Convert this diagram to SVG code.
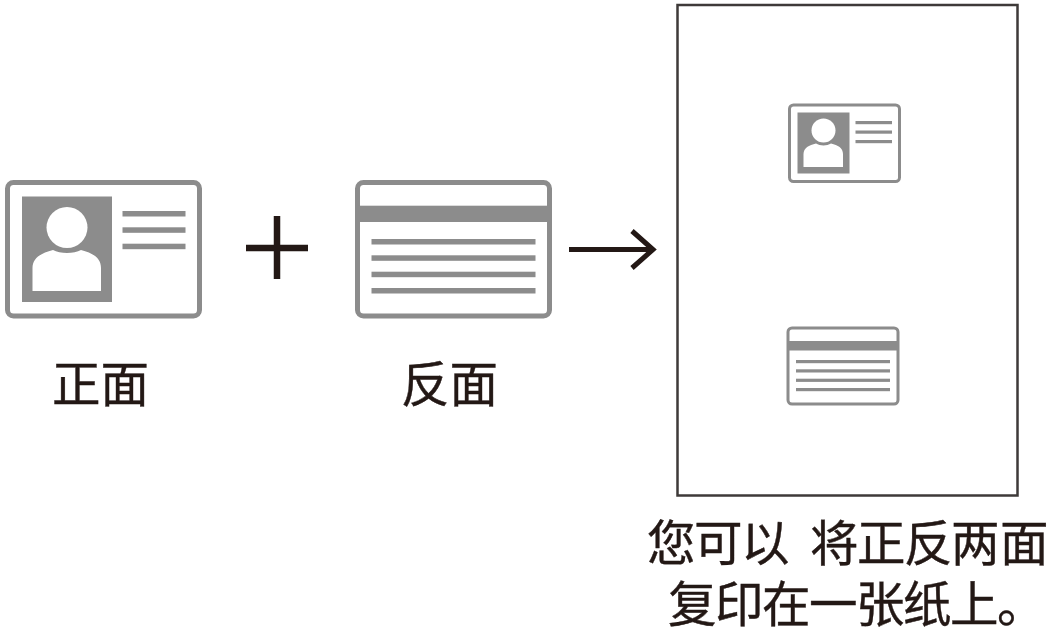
<svg xmlns="http://www.w3.org/2000/svg" width="1053" height="628" viewBox="0 0 1053 628">
<style>
.t{font-family:"Noto Sans CJK SC","Noto Sans",sans-serif;font-size:48.500px;fill:#231815;stroke:#231815;stroke-width:.4}
.g{fill:#8c8c8c}
.w{fill:#fff}
.card{fill:#fff;stroke:#8c8c8c;stroke-width:5}
.cards{fill:#fff;stroke:#8c8c8c;stroke-width:3}
.c{stroke:#231815;fill:none}
</style>
<rect width="1053" height="628" fill="#fff"/>
<g id="front-card">
<rect class="card" x="7.500" y="182.500" width="192" height="133.500" rx="6"/>
<rect class="g" x="22" y="196.500" width="90" height="105.500"/>
<circle class="w" cx="67" cy="227.500" r="20.500"/>
<path class="w" d="M32.500 291V268C32.500 258 41 253 53 250C60 254 74 254 81 250C93 253 101 258 101 268V291Z"/>
<rect class="g" x="122.500" y="211" width="63" height="5.500"/>
<rect class="g" x="122.500" y="227.300" width="63" height="5.500"/>
<rect class="g" x="122.500" y="243.700" width="63" height="5.500"/>
<text class="t" x="52" y="401.500">正面</text>
</g>
<g id="back-card">
<rect class="card" x="357.500" y="182.500" width="192" height="133.500" rx="6"/>
<rect class="g" x="357.500" y="205.700" width="192" height="16.300"/>
<rect class="g" x="371.500" y="239" width="164" height="5.500"/>
<rect class="g" x="371.500" y="255.300" width="164" height="5.500"/>
<rect class="g" x="371.500" y="271.700" width="164" height="5.500"/>
<rect class="g" x="371.500" y="288" width="164" height="5.500"/>
<text class="t" x="401" y="401.500">反面</text>
</g>
<g id="connectors">
<path class="c" stroke-width="6.500" d="M246 248H308M277 216V279"/>
<path class="c" stroke-width="5" d="M569 249.500H652M632 231L653 249.500L632 268"/>
</g>
<g id="sheet">
<rect x="677.500" y="5" width="340" height="490.500" fill="#fff" stroke="#3e3a39" stroke-width="2.500"/>
</g>
<g id="small-front">
<rect class="cards" x="789.500" y="105" width="110" height="76.500" rx="4"/>
<rect class="g" x="797.500" y="112.500" width="52" height="61"/>
<circle class="w" cx="823.500" cy="130.500" r="12"/>
<path class="w" d="M803.500 167V154C803.500 148 809 145 816 143.500C820 146 827 146 831 143.500C838 145 843 148 843 154V167Z"/>
<rect class="g" x="855.500" y="121" width="36.500" height="3.200"/>
<rect class="g" x="855.500" y="130.500" width="36.500" height="3.200"/>
<rect class="g" x="855.500" y="140" width="36.500" height="3.200"/>
</g>
<g id="small-back">
<rect class="cards" x="788" y="328" width="110" height="76" rx="4"/>
<rect class="g" x="788" y="341" width="110" height="9.500"/>
<rect class="g" x="796" y="360" width="94" height="3.200"/>
<rect class="g" x="796" y="369.300" width="94" height="3.200"/>
<rect class="g" x="796" y="378.700" width="94" height="3.200"/>
<rect class="g" x="796" y="388" width="94" height="3.200"/>
</g>
<g id="caption">
<text class="t" x="647 694 741 810 857 904 951 1000" y="560.500">您可以将正反两面</text>
<text class="t" x="668 715 762 809 856 903 950 997" y="621.500">复印在一张纸上。</text>
</g>
</svg>
